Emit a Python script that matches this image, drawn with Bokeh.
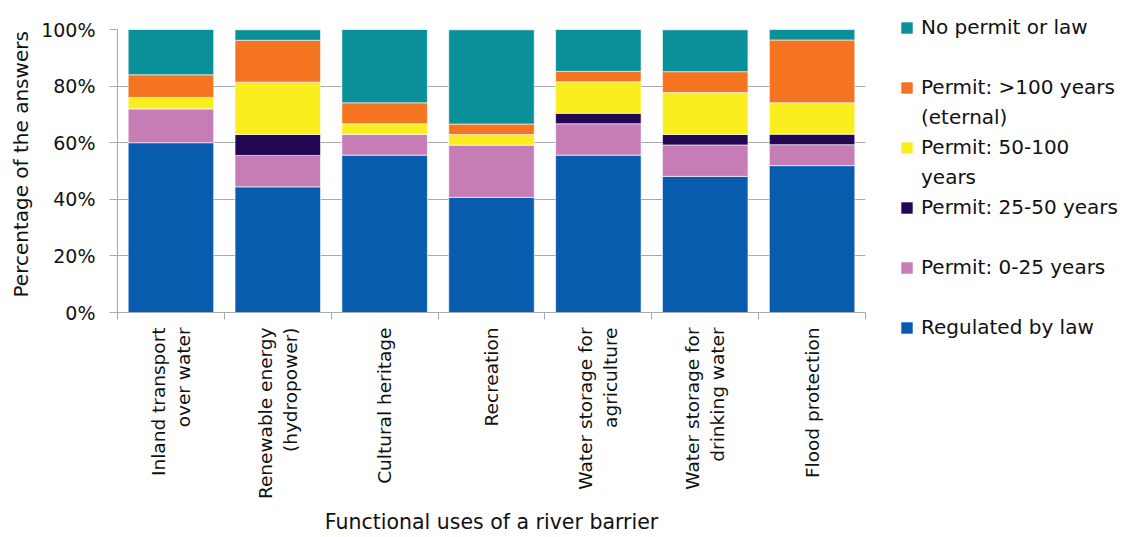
import math
from bokeh.plotting import figure
from bokeh.models import (ColumnDataSource, Range1d, FixedTicker, LinearAxis,
                          Legend, LegendItem, PrintfTickFormatter, Title)
from bokeh.embed import file_html
from bokeh.resources import INLINE

categories = ["Inland transport\nover water", "Renewable energy\n(hydropower)",
              "Cultural heritage", "Recreation", "Water storage for\nagriculture",
              "Water storage for\ndrinking water", "Flood protection"]
regulated_by_law = [60.0, 44.4, 55.6, 40.7, 55.6, 48.1, 51.9]
permit_0_25 = [12.0, 11.1, 7.4, 18.5, 11.1, 11.1, 7.4]
permit_25_50 = [0.0, 7.4, 0.0, 0.0, 3.7, 3.7, 3.7]
permit_50_100 = [4.0, 18.5, 3.7, 3.7, 11.1, 14.8, 11.1]
permit_100_plus = [8.0, 14.8, 7.4, 3.7, 3.7, 7.4, 22.2]
no_permit_or_law = [16.0, 3.7, 25.9, 33.3, 14.8, 14.8, 3.7]

series_keys = ["regulated", "p0_25", "p25_50", "p50_100", "p100", "none"]
series_names = ["Regulated by law", "Permit: 0-25 years", "Permit: 25-50 years",
                "Permit: 50-100\nyears", "Permit: >100 years\n(eternal)", "No permit or law"]
colors = ["#075CAD", "#C67CB4", "#230753", "#FAEE1E", "#F47421", "#0A9098"]
y_ticks = [0, 20, 40, 60, 80, 100]

FONT = "DejaVu Sans"
GRAY = "#A9A9AC"
TXT = "#111111"

source = ColumnDataSource(dict(
    x=list(range(len(categories))),
    regulated=regulated_by_law, p0_25=permit_0_25, p25_50=permit_25_50,
    p50_100=permit_50_100, p100=permit_100_plus, none=no_permit_or_law,
))

p = figure(frame_width=748, frame_height=283,
           x_range=Range1d(-0.5, len(categories) - 0.5), y_range=Range1d(0, 100),
           output_backend="svg", toolbar_location=None,
           x_axis_location=None, y_axis_location="left",
           min_border_left=114, min_border_top=29, min_border_right=252, min_border_bottom=150,
           outline_line_color=None)

renderers = p.vbar_stack(series_keys, x="x", width=0.8, color=colors, source=source,
                         line_color="white", line_width=1, line_alpha=0.6)

# y axis
yax = p.yaxis[0]
yax.ticker = FixedTicker(ticks=y_ticks)
yax.formatter = PrintfTickFormatter(format="%d%%")
yax.major_label_text_font = FONT
yax.major_label_text_font_size = "19px"
yax.major_label_text_color = TXT
yax.major_label_standoff = 14
yax.axis_line_color = GRAY
yax.major_tick_line_color = GRAY
yax.major_tick_out = 8
yax.major_tick_in = 0
yax.minor_tick_line_color = None

# y-axis title, slightly above the frame centre like the reference
p.add_layout(Title(text="Percentage of the answers", align="left", offset=15,
                   text_font=FONT, text_font_size="20px", text_font_style="normal",
                   text_color=TXT, standoff=12), "left")

p.ygrid.ticker = FixedTicker(ticks=y_ticks)
p.ygrid.grid_line_color = GRAY
p.xgrid.visible = False

# x axis: labels at centres, ticks at boundaries (minor ticks)
xax = LinearAxis(
    ticker=FixedTicker(ticks=list(range(len(categories))),
                       minor_ticks=[i - 0.5 for i in range(len(categories) + 1)]),
    major_label_overrides={i: c for i, c in enumerate(categories)},
    major_label_orientation=math.pi / 2,
)
xax.major_label_text_font = FONT
xax.major_label_text_font_size = "18.5px"
xax.major_label_text_color = TXT
xax.major_label_standoff = 8
xax.major_tick_out = 0
xax.major_tick_in = 0
xax.major_tick_line_color = None
xax.minor_tick_line_color = GRAY
xax.minor_tick_out = 7
xax.minor_tick_in = 0
xax.axis_line_color = GRAY
p.add_layout(xax, "below")

p.add_layout(Title(text="Functional uses of a river barrier", align="center",
                   text_font=FONT, text_font_size="20.5px", text_font_style="normal",
                   text_color=TXT, standoff=10), "below")

# legend (top series first); wrapped names continue on a glyph-less row
blank = p.vbar(x=[], top=[], width=0.8, fill_alpha=0, line_alpha=0)
items = []
order = list(range(len(series_names)))[::-1]
for k, idx in enumerate(order):
    lines = series_names[idx].split("\n")
    items.append(LegendItem(label=lines[0], renderers=[renderers[idx]]))
    if k < len(order) - 1:
        items.append(LegendItem(label=lines[1] if len(lines) > 1 else " ", renderers=[blank]))

legend = Legend(items=items, location=(34, -27), padding=0, margin=0, spacing=6,
                border_line_color=None, background_fill_alpha=0,
                glyph_width=15, glyph_height=15, label_standoff=7, label_height=24,
                label_text_font=FONT, label_text_font_size="20px",
                label_text_color=TXT)
p.add_layout(legend, "right")

open("out.html", "w").write(file_html(p, INLINE))
